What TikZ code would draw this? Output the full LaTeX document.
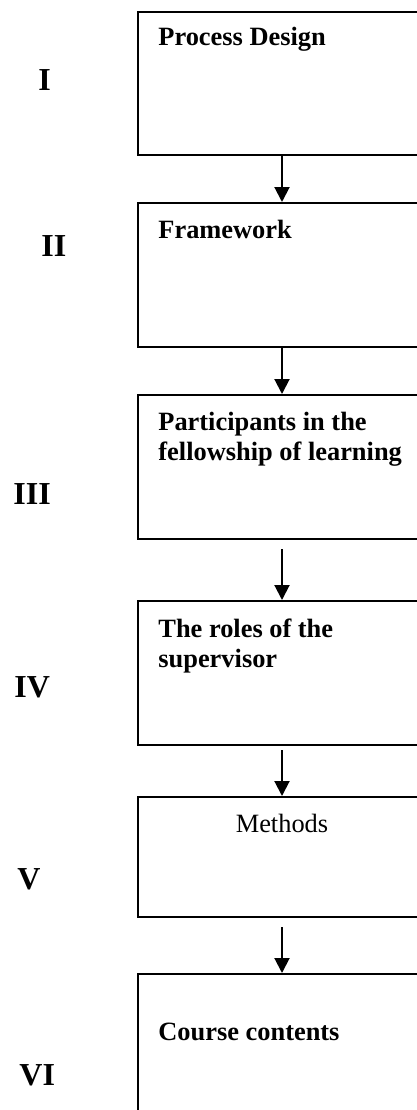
\documentclass[tikz,border=0pt]{standalone}
\usepackage{fontspec}
\setmainfont{Liberation Serif}
\usetikzlibrary{arrows.meta, positioning, calc}

\begin{document}
\begin{tikzpicture}[
    x=0.5pt, y=-0.5pt,
    stage/.style={rectangle, draw=black, line width=1pt, minimum width=144pt, inner sep=0pt, anchor=north west},
    heading/.style={anchor=base west, inner sep=0pt, align=left, font=\fontsize{13.2}{15}\selectfont\bfseries},
    numeral/.style={anchor=base west, inner sep=0pt, font=\fontsize{16}{19}\selectfont\bfseries},
    arrow/.style={-{Triangle[length=7.5pt, width=7.5pt]}, line width=1pt}
]

\clip (0, 0) rectangle (417, 1110);

% Stages
\node[stage, minimum height=71.5pt] (design) at (137, 11) {};
\node[stage, minimum height=72pt] (frame) at (137, 202) {};
\node[stage, minimum height=72pt] (partic) at (137, 394) {};
\node[stage, minimum height=72pt] (roles) at (137, 600) {};
\node[stage, minimum height=60pt] (methods) at (137, 796) {};
\node[stage, minimum height=80pt] (course) at (137, 973) {};

% Stage texts (base of a two-line node is its last line)
\node[heading] (t1) at ($(design.north west)+(21, 34)$) {Process Design};
\node[heading] (t2) at ($(frame.north west)+(21, 36)$) {Framework};
\node[heading] (t3) at ($(partic.north west)+(21, 66)$) {Participants in the\\fellowship of learning};
\node[heading] (t4) at ($(roles.north west)+(21, 67)$) {The roles of the\\supervisor};
\node[anchor=base, inner sep=0pt, font=\fontsize{13.2}{15}\selectfont] (t5) at ($(methods.north)+(0, 36)$) {Methods};
\node[heading] (t6) at ($(course.north west)+(21, 67)$) {Course contents};

% Numerals
\node[numeral] (n1) at (38, 90) {I};
\node[numeral] (n2) at (41, 256) {II};
\node[numeral] (n3) at (13, 504) {III};
\node[numeral] (n4) at (14, 697) {IV};
\node[numeral] (n5) at (17, 889) {V};
\node[numeral] (n6) at (19, 1085) {VI};

% Arrows
\draw[arrow] (design.south) -- (frame.north);
\draw[arrow] (frame.south) -- (partic.north);
\draw[arrow, shorten <=4.5pt] (partic.south) -- (roles.north);
\draw[arrow, shorten <=2pt] (roles.south) -- (methods.north);
\draw[arrow, shorten <=4.5pt] (methods.south) -- (course.north);

\end{tikzpicture}
\end{document}
